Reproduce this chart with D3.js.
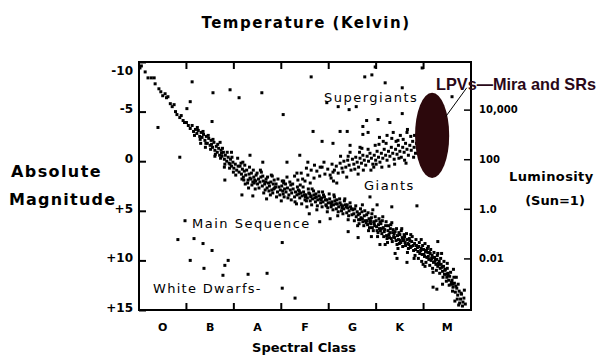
<!DOCTYPE html>
<html><head><meta charset="utf-8">
<script src="https://cdn.jsdelivr.net/npm/d3@7"></script>
<style>
html,body{margin:0;padding:0;background:#fff;}
svg{display:block;}
</style></head>
<body>
<svg id="chart" width="605" height="356"></svg>
<script>
// ---------- DATA ----------
const spectralClasses = ["O","B","A","F","G","K","M"];
const temperatureClasses = ["O","A","G","M"];
const temperatureLabels = ["30,000","10,000","5000","3000"];
const magnitudeTicks = [-10,-5,0,5,10,15];
const magnitudeLabels = ["-10","-5","0","+5","+10","+15"];
const luminosityTicks = [10000,100,1,0.01];
const luminosityLabels = ["10,000","100","1.0","0.01"];

// stars as [spectral subclass (O0=0 ... M9=69), absolute magnitude]
const mainSequence = [
[0.5,-9.6],[1.3,-9.0],[1.9,-8.4],[2.6,-8.4],[3.2,-8.4],[3.4,-7.8],[4.2,-7.3],[4.6,-7.0],[5.0,-6.6],[5.5,-6.8],[5.8,-6.4],[6.1,-6.5],[6.6,-5.8],[7.0,-5.5],[7.4,-5.7],[7.7,-5.0],[8.0,-4.7],[8.6,-4.4],[8.9,-4.6],[9.3,-4.1],[9.6,-3.9],[10.0,-3.9],[10.4,-3.6],[10.8,-3.3],[11.2,-3.6],
[11.5,-3.0],[11.9,-3.2],[12.2,-2.8],[12.5,-3.1],[12.8,-2.5],[13.1,-2.9],[13.3,-2.4],[13.6,-2.7],[13.9,-2.1],[14.2,-2.5],[14.4,-1.8],[14.7,-2.3],[15.0,-1.6],[15.2,-2.1],[15.5,-1.4],[15.8,-1.9],[16.0,-1.1],[16.3,-1.5],[16.5,-0.9],[16.8,-1.3],[17.0,-0.6],[17.3,-1.1],[17.5,-0.5],[17.8,-0.9],[18.0,-0.2],[18.2,-0.6],[18.5,0.0],[18.8,-0.4],[19.0,0.2],[19.3,-0.2],[19.5,0.5],[19.8,0.1],[20.0,0.7],[20.3,0.3],[20.6,0.9],[20.9,0.5],[14.0,-1.4],[16.0,-0.5],[18.0,0.6],[13.0,-1.8],[17.1,-1.9],[19.5,-0.9],
[11.7,-2.6],[12.3,-3.4],[12.9,-2.2],[13.5,-3.0],[14.1,-1.8],[14.6,-2.6],[15.1,-1.2],[15.6,-2.2],[16.1,-0.7],[16.6,-1.7],[17.2,-0.3],[17.6,-1.3],[18.1,0.3],[18.6,-0.9],[19.1,0.7],[19.6,-0.4],[19.9,1.1],[15.3,-1.7],[17.4,-0.8],[19.2,0.3],
[21.1,1.1],[21.3,0.5],[21.6,1.3],[21.8,0.8],[22.0,1.6],[22.2,1.0],[22.5,1.4],[22.7,0.9],[23.0,1.9],[23.2,1.3],[23.4,1.7],[23.7,1.2],[24.0,2.1],[24.2,1.6],[24.4,1.9],[24.7,1.4],[25.0,2.3],[25.2,1.8],[25.5,2.1],[25.7,1.6],[26.0,2.5],[26.2,2.0],[26.5,2.3],[26.8,1.8],[27.0,2.7],[27.3,2.2],[27.5,2.5],[27.8,2.1],[28.0,2.9],[28.3,2.3],[28.6,2.7],[28.9,2.3],[29.2,3.1],[29.5,2.6],[29.8,2.9],[30.1,2.5],[30.4,3.3],[30.7,2.8],[31.0,3.1],[31.3,2.7],[31.6,3.4],[31.9,2.9],[22.4,2.3],[24.5,2.8],[26.3,3.2],[23.1,2.7],[27.7,3.4],[29.0,3.6],[25.6,0.9],[28.1,1.5],[30.5,2.0],[21.9,0.1],[24.0,3.5],[26.9,3.8],[30.0,4.0],
[20.4,1.4],[20.8,-0.3],[21.5,0.2],[21.7,1.8],[22.3,0.4],[22.9,2.2],[23.3,0.6],[23.8,2.4],[24.1,0.9],[24.6,2.0],[24.9,1.2],[25.3,2.7],[25.8,1.1],[26.1,1.5],[26.6,2.9],[27.1,1.6],[27.4,3.0],[27.9,1.4],[28.2,3.2],[28.5,1.9],[28.8,2.6],[29.3,1.8],[29.7,3.4],[30.2,2.0],[30.6,3.6],[30.9,2.3],[31.4,3.7],[31.8,2.1],[24.3,2.2],[26.7,2.1],[28.4,2.8],[30.3,3.0],[22.1,1.9],[23.6,1.8],
[32.2,3.2],[32.5,2.8],[32.8,3.6],[33.0,3.1],[33.3,3.4],[33.6,2.9],[33.9,3.7],[34.1,3.2],[34.4,3.5],[34.7,3.1],[35.0,3.9],[35.2,3.4],[35.5,3.7],[35.8,3.2],[36.1,4.0],[36.3,3.5],[36.6,3.8],[36.9,3.4],[37.2,4.1],[37.4,3.6],[37.7,3.9],[38.0,3.5],[38.3,4.2],[38.5,3.7],[38.8,4.1],[39.1,3.6],[39.4,4.4],[39.6,3.9],[39.9,4.2],[40.2,3.8],[40.5,4.6],[40.7,4.1],[41.0,4.4],[41.3,4.0],[41.6,4.8],[41.8,4.3],[42.1,4.6],[42.4,4.2],[42.7,5.0],[42.9,4.5],[43.2,4.8],[43.5,4.4],[43.8,5.2],[44.0,4.7],[44.3,5.0],[44.6,4.6],[44.9,5.4],[45.1,4.9],[33.2,4.3],[35.4,4.6],[37.5,4.9],[39.7,5.1],[41.9,5.5],[44.1,5.9],[34.0,2.4],[36.5,2.8],[38.7,3.1],[41.1,3.4],[43.4,3.8],[35.9,5.3],[40.3,5.8],[38.1,6.1],
[32.1,3.9],[32.4,2.3],[32.9,4.1],[33.4,2.6],[33.7,3.3],[34.3,4.3],[34.6,2.6],[34.9,3.4],[35.3,4.0],[35.7,2.8],[36.0,3.3],[36.4,4.4],[36.8,3.0],[37.1,3.7],[37.6,4.5],[37.9,3.1],[38.2,3.8],[38.6,4.6],[38.9,3.4],[39.3,3.9],[39.8,4.7],[40.1,3.3],[40.4,4.2],[40.9,4.9],[41.2,3.6],[41.5,4.3],[42.0,5.1],[42.3,3.8],[42.6,4.4],[43.0,5.3],[43.3,4.0],[43.7,4.6],[44.2,5.5],[44.5,4.2],[44.8,4.8],[33.8,3.0],[36.2,3.6],[38.4,3.9],[40.6,4.4],[42.8,4.7],[35.1,3.6],[37.3,3.3],[39.5,4.5],[41.7,3.9],[43.9,4.4],
[45.3,5.3],[45.5,4.8],[45.8,5.6],[46.0,5.1],[46.3,5.9],[46.5,5.3],[46.8,5.7],[47.0,5.1],[47.2,6.1],[47.5,5.5],[47.7,6.0],[48.0,5.4],[48.2,6.4],[48.5,5.8],[48.7,6.2],[49.0,5.7],[49.2,6.7],[49.5,6.1],[49.7,6.5],[50.0,6.0],[50.2,7.0],[50.5,6.4],[50.7,6.8],[51.0,6.3],[51.2,7.3],[51.5,6.7],[51.7,7.1],[52.0,6.5],[52.2,7.5],[52.5,7.0],[52.7,7.4],[53.0,6.8],[53.2,7.8],[53.5,7.2],[53.7,7.6],[54.0,7.1],[54.2,8.0],[54.5,7.5],[54.7,7.9],[55.0,7.4],[55.2,8.2],[55.5,7.7],[55.7,8.0],[56.0,7.6],[56.2,8.5],[56.5,7.9],[56.7,8.3],[57.0,7.8],[57.2,8.7],[57.5,8.1],[57.8,8.5],[46.1,6.5],[48.4,7.0],[50.3,7.6],[52.4,8.2],[54.6,8.8],[56.6,9.2],[47.1,4.4],[49.3,4.9],[51.4,5.6],[53.3,6.2],[55.4,6.8],[57.3,7.4],[49.0,7.6],[51.9,8.4],[54.0,9.3],
[45.4,6.0],[45.7,4.5],[46.2,5.4],[46.4,6.3],[46.7,4.8],[47.1,5.8],[47.4,6.5],[47.6,5.0],[48.1,6.0],[48.3,5.2],[48.6,6.7],[48.9,6.3],[49.1,5.3],[49.4,7.0],[49.8,5.6],[50.1,6.6],[50.4,7.2],[50.6,5.8],[50.9,7.0],[51.3,6.0],[51.6,7.6],[51.8,6.9],[52.1,6.1],[52.3,7.8],[52.6,6.5],[52.9,7.2],[53.1,6.4],[53.4,8.1],[53.6,6.9],[53.9,7.7],[54.3,6.8],[54.4,8.4],[54.8,7.2],[55.1,8.0],[55.3,7.0],[55.6,8.6],[55.9,7.4],[56.1,8.2],[56.4,7.3],[56.8,8.8],[57.1,8.0],[57.4,8.6],[57.6,7.6],[57.9,9.0],[46.6,5.9],[47.9,6.2],[49.6,6.3],[50.8,6.1],[52.8,7.7],[53.8,7.3],[55.8,7.9],[56.9,8.4],[48.8,6.0],[51.1,6.8],[54.9,8.3],
[58.1,8.3],[58.3,8.9],[58.5,8.5],[58.8,9.1],[59.0,8.6],[59.2,9.3],[59.5,8.8],[59.7,9.4],[60.0,8.9],[60.2,9.6],[60.4,9.1],[60.7,9.7],[60.9,9.2],[61.1,9.9],[61.4,9.3],[61.6,10.0],[61.8,9.5],[62.1,10.2],[62.3,9.7],[62.6,10.4],[62.8,9.9],[63.0,10.6],[63.3,10.1],[63.5,10.8],[63.7,10.4],[64.0,11.1],[64.2,10.6],[64.4,11.4],[64.6,10.9],[64.9,11.7],[65.1,11.3],[65.3,12.0],[65.5,11.6],[65.8,12.4],[66.0,12.0],[66.2,12.7],[66.5,12.3],[66.7,13.2],[67.0,12.8],[67.2,13.5],[67.5,13.1],[67.8,13.9],[68.0,13.4],[68.3,14.2],[67.4,14.5],[66.6,14.1],[68.6,13.0],[65.0,10.3],[66.3,10.9],[63.0,9.3],[61.0,8.6],[59.5,7.9],[62.0,11.2],[60.3,10.6],[64.0,12.4],[58.0,9.8],[63.8,9.3],[66.9,11.7],[59.9,10.4],
[58.2,9.5],[58.4,7.9],[58.7,8.7],[58.9,9.8],[59.1,8.2],[59.4,9.0],[59.6,10.1],[59.8,8.5],[60.1,9.4],[60.3,8.3],[60.5,10.2],[60.8,8.8],[61.0,9.6],[61.3,10.5],[61.5,8.9],[61.7,9.8],[61.9,10.8],[62.2,9.2],[62.4,10.1],[62.7,11.0],[62.9,9.5],[63.1,10.3],[63.4,11.3],[63.6,9.8],[63.9,10.7],[64.1,11.7],[64.3,10.1],[64.5,11.0],[64.8,12.1],[65.0,10.8],[65.2,11.5],[65.4,12.5],[65.7,11.2],[65.9,12.2],[66.1,13.1],[66.4,11.7],[66.8,12.6],[67.1,13.9],[67.3,12.4],[67.6,14.3],[67.9,13.3],[68.2,14.6],[68.5,13.8],[68.8,14.4],[60.6,9.0],[62.5,9.9],[64.7,11.4],[66.2,12.4],[61.2,9.2],[63.2,10.4]
];
const giants = [
[30.5,2.2],[31.2,1.6],[32.0,2.4],[32.8,1.5],[33.5,1.9],[34.2,1.2],[35.0,2.0],[35.6,1.4],[36.3,0.9],[36.9,1.7],[37.5,1.0],[38.1,1.5],[38.6,0.6],[39.2,1.3],[39.8,0.8],[40.3,1.4],[40.7,0.3],[41.2,0.9],[41.6,0.5],[42.0,1.2],[42.4,0.2],[42.8,0.7],[43.2,0.0],[43.6,0.6],[44.0,-0.1],[44.3,0.4],[44.7,0.9],[45.0,-0.2],[45.3,0.3],[45.7,-0.4],[46.0,0.1],[46.3,0.6],[46.6,-0.3],[46.9,0.2],[47.2,-0.6],[47.5,-0.1],[47.8,0.4],[48.1,-0.5],[48.4,0.0],[48.7,-0.8],[49.0,-0.3],[49.3,0.3],[49.6,-0.6],[49.9,-0.1],[50.2,-1.0],[50.5,-0.4],[50.8,0.1],[51.1,-0.8],[51.4,-0.3],[51.7,-1.2],[52.0,-0.6],[52.3,-0.1],[52.6,-1.0],[52.9,-0.5],[53.2,-1.4],[53.5,-0.8],[53.8,-0.2],[54.1,-1.2],[54.4,-0.7],[54.7,-1.6],[55.0,-1.0],[55.3,-0.4],[55.6,-1.4],[55.9,-0.9],[56.2,-1.8],[56.5,-1.2],[56.8,-0.6],[57.1,-1.6],[57.4,-1.1],[57.7,-2.0],[58.0,-1.4],[58.3,-0.8],[49.8,-1.6],[51.5,-2.0],[53.3,-2.3],[55.1,-2.6],[47.0,-1.3],[44.5,-0.9],[42.5,-0.5],[46.2,1.3],[48.9,0.9],[51.2,0.6],[53.9,0.3],[56.0,-0.1],[41.0,2.0],[43.8,1.6],
[45.5,0.8],[47.3,0.9],[49.5,0.6],[50.6,-1.7],[52.1,-1.8],[54.2,-2.0],[55.7,-2.2],[57.3,-2.5],[56.3,0.2],[54.8,-0.3],[58.5,-1.8],[57.9,-0.4],[52.7,0.5],[50.0,0.3],[48.3,-1.2],[46.5,-0.9],[44.1,-0.5],[43.0,1.1],[40.5,1.7],[39.0,0.1],[37.0,0.4],[35.3,0.7],[34.5,1.8],[50.7,-2.4],[53.6,-2.9],[56.6,-3.2],[58.1,-2.6]
];
const scatteredStars = [
[0.2,-9.4],[11.2,-8.0],[15.6,-6.9],[19.2,-7.2],[21.1,-6.4],[10.8,-6.0],[10.1,-5.3],[15.4,-4.0],[4.0,-3.4],[25.9,-6.9],[30.4,-4.7],[8.6,-0.4],[36.3,-8.5],[39.6,-5.9],[42.0,-5.5],[44.3,-5.2],[45.8,-5.5],[47.6,-8.5],[36.7,-3.0],[42.4,-3.0],[43.9,-3.0],[38.6,-2.0],[40.9,-1.8],[47.2,-3.5],[48.0,-4.1],[47.2,-2.7],[49.8,-9.5],[59.7,-9.4],[49.1,-8.7],[51.9,-7.9],[55.5,-7.4],[66.0,-6.5],[50.4,-4.2],[52.9,-3.9],[55.5,-4.8],[56.5,-2.9],[48.3,-2.9],[52.3,-2.6],[54.6,-2.1],[44.5,-1.6],[46.6,-1.4],[33.9,-0.6],[31.2,0.1],[26.1,0.1],[23.4,-0.6],[35.6,0.1],[38.2,0.6],[40.9,1.1],[41.7,2.2],[36.1,2.2],[33.3,1.2],[21.7,3.4],[18.1,1.9],[50.2,4.4],[53.3,4.6],[58.6,4.5],[48.7,3.6],[63.0,8.1],[62.0,12.7],[44.1,7.1],[46.2,7.7],[50.8,8.4],[54.4,9.8],[56.5,10.2],[62.8,12.9],
[9.7,6.0],[8.2,7.9],[11.6,7.8],[13.5,8.3],[15.4,9.0],[10.8,10.0],[13.7,10.8],[18.1,10.5],[18.8,10.0],[17.7,11.5],[23.0,11.4],[27.0,11.3],[30.2,8.2],[30.2,12.8],[32.9,13.8]
];
// Long-period variables region (centre subclass, centre magnitude, half-widths)
const lpvRegion = {s:61.8, m:-2.6, ds:3.6, dm:4.3};

// ---------- SCALES ----------
const svg = d3.select("#chart");
const L = 139, R = 471, T = 62, B = 310;
const x = d3.scaleLinear().domain([0,70]).range([L,R]);
const band = d3.scaleBand().domain(spectralClasses).range([L,R]);
const y = d3.scaleLinear().domain([-10,15]).range([T,B]);
const lum = d3.scaleLog()
  .domain([Math.pow(10,(4.8+10)/2.5), Math.pow(10,(4.8-15)/2.5)])
  .range([T,B]);

const boldFont = "'DejaVu Sans', sans-serif";

// ---------- AXES ----------
const gl = svg.append("g").attr("transform",`translate(${L},0)`)
  .call(d3.axisLeft(y).tickValues(magnitudeTicks).tickSizeInner(-7).tickSizeOuter(0).tickPadding(6)
        .tickFormat((d,i)=>magnitudeLabels[i]));
gl.select(".domain").remove();
gl.selectAll("text").attr("font-family",boldFont).attr("font-weight","bold").attr("font-size",12)
  .attr("fill","#000").attr("dy",(d)=> d===-10 ? "1.0em" : "0.1em");
gl.selectAll("line").attr("stroke","#000").attr("stroke-width",2);

const gr = svg.append("g").attr("transform",`translate(${R},0)`)
  .call(d3.axisRight(lum).tickValues(luminosityTicks).tickSizeInner(-7).tickSizeOuter(0).tickPadding(8)
        .tickFormat((d,i)=>luminosityLabels[i]));
gr.select(".domain").remove();
gr.selectAll("text").attr("font-family",boldFont).attr("font-weight","bold").attr("font-size",10).attr("fill","#000");
gr.selectAll("line").attr("stroke","#000").attr("stroke-width",1.5);

const boundaries = spectralClasses.slice(1).map(c=>band(c));
const gt = svg.append("g").attr("transform",`translate(0,${T})`)
  .call(d3.axisTop(band).tickSize(0).tickPadding(0).tickFormat(()=>""));
gt.select(".domain").remove();
gt.selectAll(".tick").remove();
gt.selectAll("line.b").data(boundaries).join("line").attr("class","b")
  .attr("x1",d=>d).attr("x2",d=>d).attr("y1",0).attr("y2",7).attr("stroke","#000").attr("stroke-width",2);
gt.selectAll("text.t").data(temperatureClasses).join("text").attr("class","t")
  .attr("x",d=>band(d)+band.bandwidth()/2).attr("y",-10)
  .attr("text-anchor","middle").attr("font-family",boldFont).attr("font-weight","bold").attr("font-size",11)
  .text((d,i)=>temperatureLabels[i]);

const gb = svg.append("g").attr("transform",`translate(0,${B})`)
  .call(d3.axisBottom(band).tickSize(0).tickPadding(13));
gb.select(".domain").remove();
gb.selectAll("text").attr("font-family",boldFont).attr("font-weight","bold").attr("font-size",11).attr("fill","#000");
gb.selectAll("line.b").data(boundaries).join("line").attr("class","b")
  .attr("x1",d=>d).attr("x2",d=>d).attr("y1",0).attr("y2",-7).attr("stroke","#000").attr("stroke-width",2);

// frame
svg.append("path")
  .attr("d",`M${L},${T}H${R}V${B}H${L}Z`)
  .attr("fill","none").attr("stroke","#000").attr("stroke-width",2);

// ---------- STARS ----------
const allStars = mainSequence.concat(giants, scatteredStars);
svg.append("g").selectAll("rect").data(allStars).join("rect")
  .attr("x",d=>x(d[0])-1.5).attr("y",d=>y(d[1])-1.5)
  .attr("width",3).attr("height",3).attr("fill","#000");

// LPV region
svg.append("ellipse")
  .attr("cx",x(lpvRegion.s)).attr("cy",y(lpvRegion.m))
  .attr("rx",x(lpvRegion.s+lpvRegion.ds)-x(lpvRegion.s))
  .attr("ry",y(lpvRegion.m+lpvRegion.dm)-y(lpvRegion.m))
  .attr("fill","#2c080c");
svg.append("line")
  .attr("x1",x(lpvRegion.s+lpvRegion.ds*0.8)).attr("y1",y(lpvRegion.m-1.9))
  .attr("x2",x(69.1)).attr("y2",y(-7.4))
  .attr("stroke","#000").attr("stroke-width",1);

// ---------- LABELS ----------
const regFont = "'DejaVu Sans', sans-serif";
function label(t,xx,yy,size,opts={}){
  const e = svg.append("text").attr("x",xx).attr("y",yy).attr("font-size",size)
    .attr("font-family",opts.family||regFont).attr("fill",opts.fill||"#000").text(t);
  if(opts.bold) e.attr("font-weight","bold");
  if(opts.anchor) e.attr("text-anchor",opts.anchor);
  if(opts.ls) e.attr("letter-spacing",opts.ls);
  if(opts.len) e.attr("textLength",opts.len).attr("lengthAdjust","spacingAndGlyphs");
  return e;
}
label("Temperature (Kelvin)",306,28,15,{bold:true,anchor:"middle",ls:1.5,family:boldFont});
label("Absolute",11,177,16,{bold:true,ls:1.4,family:boldFont});
label("Magnitude",9,205,16,{bold:true,ls:1.2,family:boldFont});
label("Luminosity",509,181,13,{bold:true,ls:0.4,family:boldFont});
label("(Sun=1)",555,205,13,{bold:true,anchor:"middle",family:boldFont});
label("Spectral Class",304,352,13,{bold:true,anchor:"middle",family:boldFont});

label("Supergiants",324,102,13,{ls:1.5});
label("Giants",364,190,13,{ls:1.5});
label("Main Sequence",192,228,13,{ls:1.5});
label("White Dwarfs-",153,293,13,{ls:1.3});
label("LPVs\u2014Mira and SRs",436,90,17,{bold:true,family:"'Liberation Sans',Arial,sans-serif",fill:"#2a0818",len:160});
</script>
</body></html>
